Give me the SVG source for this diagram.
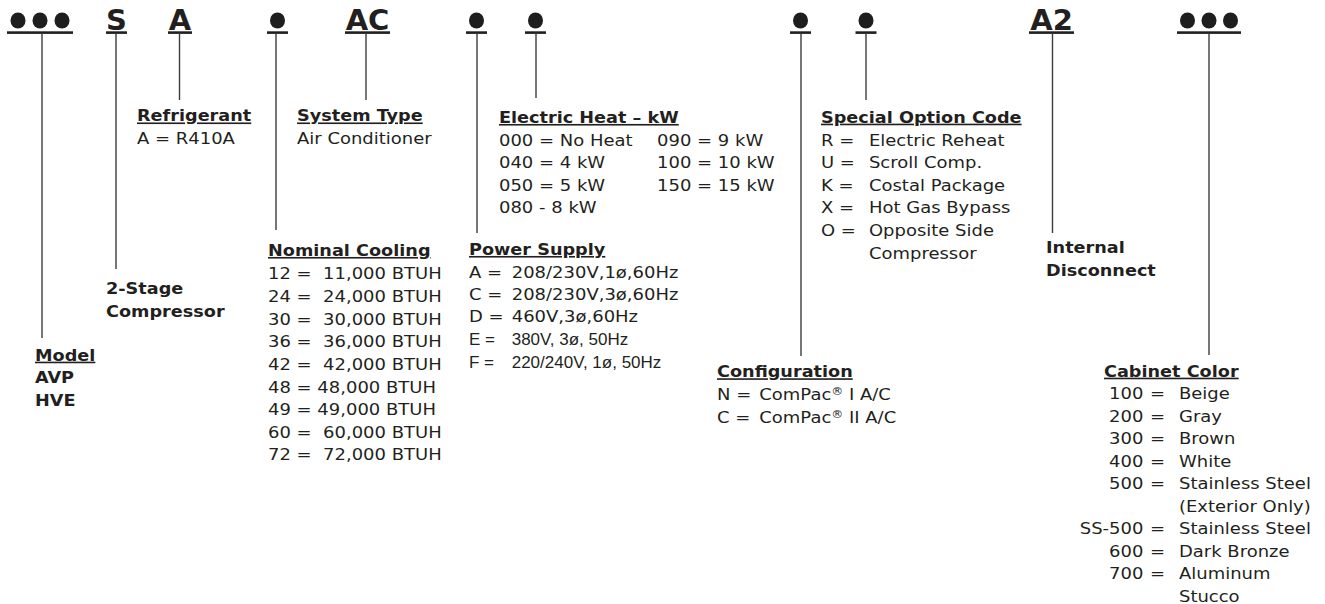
<svg xmlns="http://www.w3.org/2000/svg" width="1325" height="604" viewBox="0 0 1325 604">
<style>
.t{font-family:"DejaVu Sans",Verdana,sans-serif;font-size:16.5px;fill:#231f20}
.b{font-weight:bold;font-size:16.2px}
.u{text-decoration:underline}
.sym{font-family:"DejaVu Sans",Verdana,sans-serif;font-weight:bold;font-size:29px;fill:#231f20;text-anchor:middle}
.n{font-family:"Liberation Sans",Arial,sans-serif;font-size:17px;fill:#231f20}
.e{text-anchor:end}
.stem{stroke:#3c3c3c;stroke-width:1.4;fill:none}
.bar{fill:#231f20}
.dot{fill:#1e1e1e}
</style>
<rect width="1325" height="604" fill="#ffffff"/>

<!-- top code fields -->
<g id="field-model"><ellipse class="dot" cx="18" cy="20.5" rx="7.5" ry="8"/><ellipse class="dot" cx="40" cy="20.5" rx="7.5" ry="8"/><ellipse class="dot" cx="62" cy="20.5" rx="7.5" ry="8"/><rect class="bar" x="7" y="31.3" width="66" height="2.6"/></g>
<g id="field-stage"><text class="sym" x="116.5" y="30">S</text><rect class="bar" x="106" y="31.3" width="21" height="2.6"/></g>
<g id="field-refrigerant"><text class="sym" x="180" y="30">A</text><rect class="bar" x="168" y="31.3" width="24" height="2.6"/></g>
<g id="field-cooling"><ellipse class="dot" cx="277.5" cy="20.5" rx="7.5" ry="8"/><rect class="bar" x="267" y="31.3" width="21" height="2.6"/></g>
<g id="field-type"><text class="sym" x="367.5" y="30">AC</text><rect class="bar" x="345" y="31.3" width="45" height="2.6"/></g>
<g id="field-power"><ellipse class="dot" cx="476.5" cy="20.5" rx="7.5" ry="8"/><rect class="bar" x="466" y="31.3" width="21" height="2.6"/></g>
<g id="field-heat"><ellipse class="dot" cx="535.5" cy="20.5" rx="7.5" ry="8"/><rect class="bar" x="525" y="31.3" width="21" height="2.6"/></g>
<g id="field-config"><ellipse class="dot" cx="800.5" cy="20.5" rx="7.5" ry="8"/><rect class="bar" x="790" y="31.3" width="21" height="2.6"/></g>
<g id="field-special"><ellipse class="dot" cx="866" cy="20.5" rx="7.5" ry="8"/><rect class="bar" x="855.5" y="31.3" width="21" height="2.6"/></g>
<g id="field-disconnect"><text class="sym" x="1051.5" y="30">A2</text><rect class="bar" x="1029" y="31.3" width="45" height="2.6"/></g>
<g id="field-color"><ellipse class="dot" cx="1187.5" cy="20.5" rx="7.5" ry="8"/><ellipse class="dot" cx="1209" cy="20.5" rx="7.5" ry="8"/><ellipse class="dot" cx="1230.5" cy="20.5" rx="7.5" ry="8"/><rect class="bar" x="1177" y="31.3" width="64" height="2.6"/></g>

<!-- connectors -->
<g id="connectors">
<line class="stem" x1="42" y1="33" x2="42" y2="338"/>
<line class="stem" x1="116" y1="33" x2="116" y2="269"/>
<line class="stem" x1="179.5" y1="33" x2="179.5" y2="100"/>
<line class="stem" x1="276" y1="33" x2="276" y2="230"/>
<line class="stem" x1="366" y1="33" x2="366" y2="100"/>
<line class="stem" x1="477" y1="33" x2="477" y2="233"/>
<line class="stem" x1="536" y1="33" x2="536" y2="98"/>
<line class="stem" x1="801" y1="33" x2="801" y2="356"/>
<line class="stem" x1="866" y1="33" x2="866" y2="100"/>
<line class="stem" x1="1052.5" y1="33" x2="1052.5" y2="233"/>
<line class="stem" x1="1209" y1="33" x2="1209" y2="355"/>
</g>

<!-- labels -->
<g id="label-model" transform="translate(35 0) scale(1.09 1)">
<text class="t b u" x="0" y="360.7">Model</text>
<text class="t b" x="0" y="383.2">AVP</text>
<text class="t b" x="0" y="405.7">HVE</text>
</g>
<g id="label-stage" transform="translate(106 0) scale(1.09 1)">
<text class="t b" x="0" y="294">2-Stage</text>
<text class="t b" x="0" y="316.7">Compressor</text>
</g>
<g id="label-refrigerant" transform="translate(137 0) scale(1.09 1)">
<text class="t b u" x="0" y="121.5">Refrigerant</text>
<text class="t" x="0" y="144">A = R410A</text>
</g>
<g id="label-type" transform="translate(297 0) scale(1.09 1)">
<text class="t b u" x="0" y="121.5">System Type</text>
<text class="t" x="0" y="144.5">Air Conditioner</text>
</g>
<g id="label-cooling" transform="translate(268 0) scale(1.09 1)">
<text class="t b u" x="0" y="256">Nominal Cooling</text>
<text class="t" xml:space="preserve" x="0" y="279.3">12 =  11,000 BTUH</text>
<text class="t" xml:space="preserve" x="0" y="302">24 =  24,000 BTUH</text>
<text class="t" xml:space="preserve" x="0" y="324.6">30 =  30,000 BTUH</text>
<text class="t" xml:space="preserve" x="0" y="347.3">36 =  36,000 BTUH</text>
<text class="t" xml:space="preserve" x="0" y="369.9">42 =  42,000 BTUH</text>
<text class="t" xml:space="preserve" x="0" y="392.6">48 = 48,000 BTUH</text>
<text class="t" xml:space="preserve" x="0" y="415.2">49 = 49,000 BTUH</text>
<text class="t" xml:space="preserve" x="0" y="437.9">60 =  60,000 BTUH</text>
<text class="t" xml:space="preserve" x="0" y="460.5">72 =  72,000 BTUH</text>
</g>
<g id="label-heat" transform="translate(499 0) scale(1.09 1)">
<text class="t b u" x="0" y="123">Electric Heat – kW</text>
<text class="t" x="0" y="146">000 = No Heat</text>
<text class="t" x="0" y="168.5">040 = 4 kW</text>
<text class="t" x="0" y="191">050 = 5 kW</text>
<text class="t" x="0" y="213.5">080 - 8 kW</text>
<text class="t" x="145" y="146">090 = 9 kW</text>
<text class="t" x="145" y="168.5">100 = 10 kW</text>
<text class="t" x="145" y="191">150 = 15 kW</text>
</g>
<g id="label-power" transform="translate(469 0)">
<g transform="scale(1.09 1)">
<text class="t b u" x="0" y="255">Power Supply</text>
<text class="t" x="0" y="278">A =</text><text class="t" x="39.2" y="278">208/230V,1ø,60Hz</text>
<text class="t" x="0" y="300.3">C =</text><text class="t" x="39.2" y="300.3">208/230V,3ø,60Hz</text>
<text class="t" x="0" y="322.5">D =</text><text class="t" x="39.2" y="322.5">460V,3ø,60Hz</text>
</g>
<text class="n" x="0" y="345">E =</text><text class="n" x="42.7" y="345">380V, 3ø, 50Hz</text>
<text class="n" x="0" y="367.5">F =</text><text class="n" x="42.7" y="367.5">220/240V, 1ø, 50Hz</text>
</g>
<g id="label-config" transform="translate(717 0) scale(1.09 1)">
<text class="t b u" x="0" y="377.3">Configuration</text>
<text class="t" x="0" y="400.5">N =</text><text class="t" x="38.8" y="400.5">ComPac<tspan font-size="11" dy="-5">®</tspan><tspan dy="5"> I A/C</tspan></text>
<text class="t" x="0" y="422.8">C =</text><text class="t" x="38.8" y="422.8">ComPac<tspan font-size="11" dy="-5">®</tspan><tspan dy="5"> II A/C</tspan></text>
</g>
<g id="label-special" transform="translate(821 0) scale(1.09 1)">
<text class="t b u" x="0" y="122.7">Special Option Code</text>
<text class="t" x="0" y="145.7">R =</text><text class="t" x="44" y="145.7">Electric Reheat</text>
<text class="t" x="0" y="168.3">U =</text><text class="t" x="44" y="168.3">Scroll Comp.</text>
<text class="t" x="0" y="190.9">K =</text><text class="t" x="44" y="190.9">Costal Package</text>
<text class="t" x="0" y="213.4">X =</text><text class="t" x="44" y="213.4">Hot Gas Bypass</text>
<text class="t" x="0" y="236">O =</text><text class="t" x="44" y="236">Opposite Side</text>
<text class="t" x="44" y="258.7">Compressor</text>
</g>
<g id="label-disconnect" transform="translate(1046 0) scale(1.09 1)">
<text class="t b" x="0" y="253.3">Internal</text>
<text class="t b" x="0" y="276">Disconnect</text>
</g>
<g id="label-color" transform="translate(1104 0) scale(1.09 1)">
<text class="t b u" x="0" y="376.7">Cabinet Color</text>
<text class="t e" x="36.1" y="399.3">100</text><text class="t" x="42.2" y="399.3">=</text><text class="t" x="68.8" y="399.3">Beige</text>
<text class="t e" x="36.1" y="421.8">200</text><text class="t" x="42.2" y="421.8">=</text><text class="t" x="68.8" y="421.8">Gray</text>
<text class="t e" x="36.1" y="444.3">300</text><text class="t" x="42.2" y="444.3">=</text><text class="t" x="68.8" y="444.3">Brown</text>
<text class="t e" x="36.1" y="466.8">400</text><text class="t" x="42.2" y="466.8">=</text><text class="t" x="68.8" y="466.8">White</text>
<text class="t e" x="36.1" y="489.3">500</text><text class="t" x="42.2" y="489.3">=</text><text class="t" x="68.8" y="489.3">Stainless Steel</text>
<text class="t" x="68.8" y="511.8">(Exterior Only)</text>
<text class="t e" x="36.1" y="534.3">SS-500</text><text class="t" x="42.2" y="534.3">=</text><text class="t" x="68.8" y="534.3">Stainless Steel</text>
<text class="t e" x="36.1" y="556.8">600</text><text class="t" x="42.2" y="556.8">=</text><text class="t" x="68.8" y="556.8">Dark Bronze</text>
<text class="t e" x="36.1" y="579.3">700</text><text class="t" x="42.2" y="579.3">=</text><text class="t" x="68.8" y="579.3">Aluminum</text>
<text class="t" x="68.8" y="601.8">Stucco</text>
</g>
</svg>
